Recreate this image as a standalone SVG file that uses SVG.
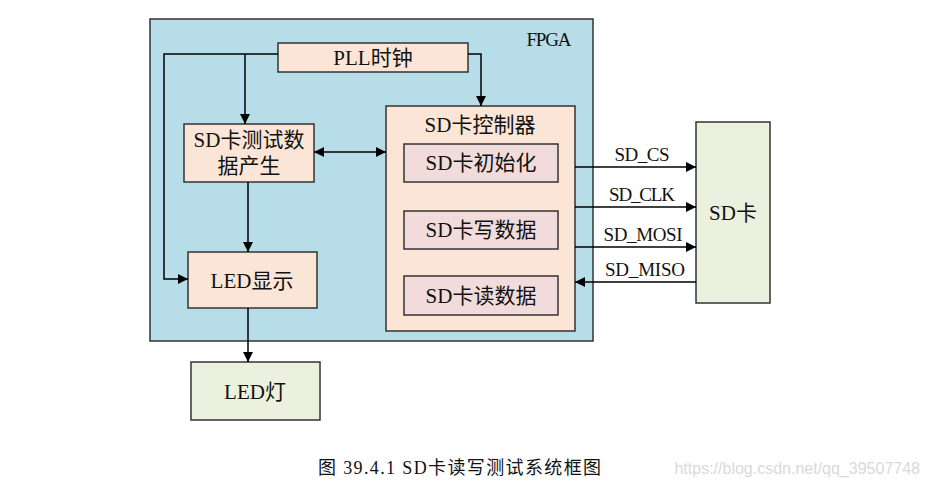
<svg xmlns="http://www.w3.org/2000/svg" width="933" height="491" viewBox="0 0 933 491">
  <defs>
    <marker id="arr" viewBox="0 0 10 10" refX="10" refY="5" markerWidth="10" markerHeight="10" markerUnits="userSpaceOnUse" orient="auto-start-reverse">
      <path d="M0,0 L10,5 L0,10 z" fill="#000"/>
    </marker>
    <style>
      .box { stroke: #333; stroke-width: 1.5; }
      .peach { fill: #fbe5d6; }
      .pink { fill: #f2dcdb; }
      .green { fill: #ebf1de; }
      .t { font-family: "Liberation Serif", "Noto Sans CJK SC", serif; font-size: 21px; fill: #111; text-anchor: middle; }
      .sig { font-family: "Liberation Serif", "Noto Sans CJK SC", serif; font-size: 19px; fill: #111; text-anchor: middle; }
      .wire { fill: none; stroke: #000; stroke-width: 1.5; }
    </style>
  </defs>
  <rect width="933" height="491" fill="#fff"/>

  <g id="fpga">
    <rect class="box" x="150" y="19" width="443" height="322" fill="#b7dde8"/>
    <text class="sig" x="549" y="46" textLength="45">FPGA</text>
  </g>

  <g id="pll">
    <rect class="box peach" x="278" y="43" width="190" height="29"/>
    <text class="t" x="373" y="65">PLL时钟</text>
  </g>

  <g id="test-gen">
    <rect class="box peach" x="184" y="124" width="130" height="58"/>
    <text class="t" x="249" y="147">SD卡测试数</text>
    <text class="t" x="249" y="173">据产生</text>
  </g>

  <g id="sd-ctrl">
    <rect class="box peach" x="386" y="106" width="189" height="225"/>
    <text class="t" x="480" y="132">SD卡控制器</text>
  </g>

  <g id="sd-init">
    <rect class="box pink" x="404" y="144" width="154" height="38"/>
    <text class="t" x="481" y="170">SD卡初始化</text>
  </g>

  <g id="sd-write">
    <rect class="box pink" x="404" y="211" width="154" height="38"/>
    <text class="t" x="481" y="237">SD卡写数据</text>
  </g>

  <g id="sd-read">
    <rect class="box pink" x="404" y="276" width="154" height="39"/>
    <text class="t" x="481" y="303">SD卡读数据</text>
  </g>

  <g id="led-disp">
    <rect class="box peach" x="188" y="252" width="129" height="56"/>
    <text class="t" x="252" y="288">LED显示</text>
  </g>

  <g id="led">
    <rect class="box green" x="191" y="362" width="129" height="58"/>
    <text class="t" x="255" y="399">LED灯</text>
  </g>

  <g id="sd-card">
    <rect class="box green" x="696" y="122" width="74" height="181"/>
    <text class="t" x="733" y="220">SD卡</text>
  </g>

  <g id="connectors">
    <!-- PLL clock fan-out -->
    <polyline class="wire" points="278,54 164,54 164,279 188,279" marker-end="url(#arr)"/>
    <line class="wire" x1="245" y1="54" x2="245" y2="124" marker-end="url(#arr)"/>
    <polyline class="wire" points="468,54 481,54 481,106" marker-end="url(#arr)"/>
    <!-- data path -->
    <line class="wire" x1="314" y1="152" x2="386" y2="152" marker-start="url(#arr)" marker-end="url(#arr)"/>
    <line class="wire" x1="248" y1="182" x2="248" y2="252" marker-end="url(#arr)"/>
    <line class="wire" x1="248" y1="308" x2="248" y2="362" marker-end="url(#arr)"/>
    <!-- SPI signals -->
    <line class="wire" x1="575" y1="167" x2="696" y2="167" marker-end="url(#arr)"/>
    <line class="wire" x1="575" y1="207" x2="696" y2="207" marker-end="url(#arr)"/>
    <line class="wire" x1="575" y1="247" x2="696" y2="247" marker-end="url(#arr)"/>
    <line class="wire" x1="696" y1="282" x2="575" y2="282" marker-end="url(#arr)"/>
    <text class="sig" x="642" y="161" textLength="55">SD_CS</text>
    <text class="sig" x="642" y="201" textLength="66">SD_CLK</text>
    <text class="sig" x="643" y="241" textLength="79">SD_MOSI</text>
    <text class="sig" x="645" y="276" textLength="80">SD_MISO</text>
  </g>

  <text x="318" y="474" font-family="Liberation Serif, 'Noto Sans CJK SC', serif" font-size="18" fill="#111" textLength="283">图 39.4.1 SD卡读写测试系统框图</text>
  <text x="920" y="474" font-family="Liberation Sans, sans-serif" font-size="16" fill="#d9d9d9" text-anchor="end">https://blog.csdn.net/qq_39507748</text>
</svg>
